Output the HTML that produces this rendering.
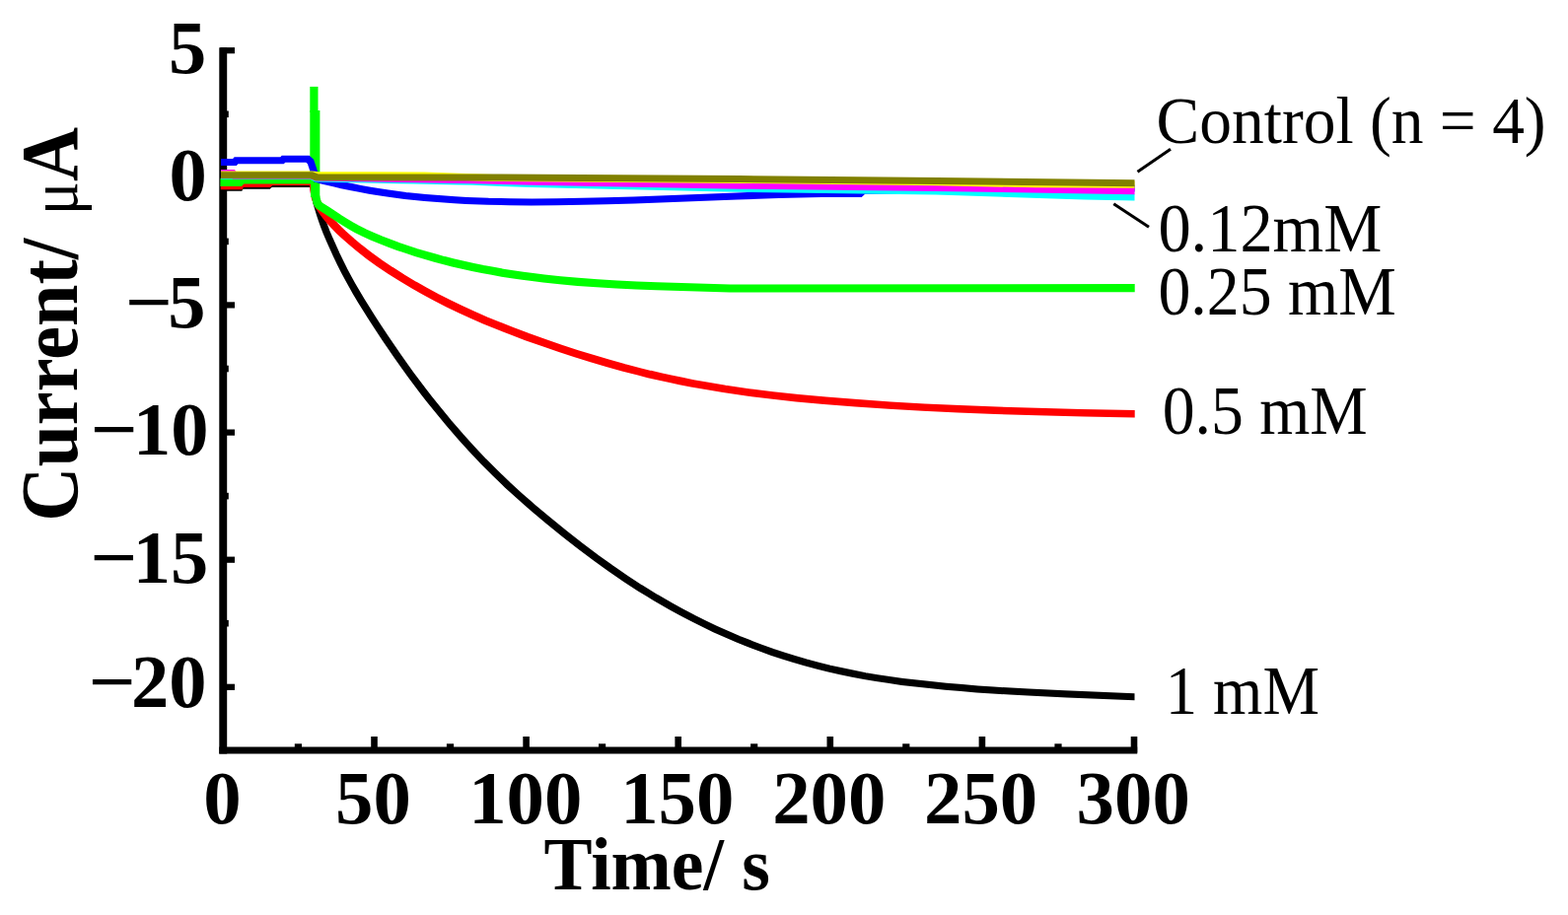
<!DOCTYPE html>
<html lang="en"><head><meta charset="utf-8"><title>Current vs Time</title>
<style>
html,body{margin:0;padding:0;background:#fff;overflow:hidden}
svg{display:block}
text{font-family:"Liberation Serif",serif;fill:#000;white-space:pre}
</style></head>
<body>
<svg width="1590" height="928" viewBox="0 0 1590 928">
<rect width="1590" height="928" fill="#fff"/>
<g fill="#000">
<rect x="222.3" y="48.3" width="7.9" height="716.2"/>
<rect x="222.3" y="757.5" width="930.9" height="7.0"/>
<rect x="223.3" y="48.1" width="14.7" height="6.2"/>
<rect x="223.3" y="177.2" width="14.7" height="6.2"/>
<rect x="223.3" y="306.3" width="14.7" height="6.2"/>
<rect x="223.3" y="435.5" width="14.7" height="6.2"/>
<rect x="223.3" y="564.6" width="14.7" height="6.2"/>
<rect x="223.3" y="693.7" width="14.7" height="6.2"/>
<rect x="223.3" y="112.5" width="8.5" height="6.6"/>
<rect x="223.3" y="241.6" width="8.5" height="6.6"/>
<rect x="223.3" y="370.7" width="8.5" height="6.6"/>
<rect x="223.3" y="499.8" width="8.5" height="6.6"/>
<rect x="223.3" y="628.9" width="8.5" height="6.6"/>
<rect x="376.2" y="747.0" width="6.6" height="16.5"/>
<rect x="530.3" y="747.0" width="6.6" height="16.5"/>
<rect x="684.4" y="747.0" width="6.6" height="16.5"/>
<rect x="838.5" y="747.0" width="6.6" height="16.5"/>
<rect x="992.6" y="747.0" width="6.6" height="16.5"/>
<rect x="1146.7" y="747.0" width="6.6" height="16.5"/>
<rect x="298.8" y="754.3" width="7.2" height="9.2"/>
<rect x="452.9" y="754.3" width="7.2" height="9.2"/>
<rect x="607.0" y="754.3" width="7.2" height="9.2"/>
<rect x="761.1" y="754.3" width="7.2" height="9.2"/>
<rect x="915.2" y="754.3" width="7.2" height="9.2"/>
<rect x="1069.4" y="754.3" width="7.2" height="9.2"/>
</g>
<g stroke-linejoin="miter" stroke-miterlimit="3">
<path d="M227.0 189.7 L242.5 189.7 L243.5 187.7 L271.5 187.7 L273.5 185.9 L319.5 185.9 L320.0 194.4 L320.5 200.5 L321.0 203.0 L321.5 205.2 L325.0 216.8 L327.0 222.8 L329.0 228.3 L331.5 234.8 L335.0 243.1 L341.5 257.5 L345.5 265.8 L349.5 273.8 L353.5 281.3 L357.5 288.6 L361.5 295.6 L367.0 304.8 L377.5 321.6 L383.5 330.9 L391.0 342.2 L403.5 360.5 L409.5 369.0 L417.0 379.4 L429.5 396.1 L435.5 403.8 L443.0 413.2 L455.5 428.4 L467.5 442.3 L479.0 455.0 L491.0 467.7 L503.0 479.7 L515.0 491.2 L527.5 502.6 L541.0 514.4 L555.5 526.6 L573.0 540.8 L589.0 553.3 L605.0 565.4 L619.5 575.8 L635.0 586.4 L649.5 595.9 L657.5 600.8 L665.5 605.7 L681.0 614.6 L691.5 620.4 L703.5 626.7 L715.0 632.4 L725.5 637.4 L737.5 642.8 L749.0 647.7 L759.5 651.9 L771.5 656.5 L783.5 660.8 L795.0 664.6 L805.5 667.9 L817.5 671.4 L829.5 674.6 L841.5 677.6 L853.5 680.3 L865.5 682.8 L877.5 685.1 L889.5 687.1 L901.5 688.9 L915.5 690.9 L929.5 692.6 L943.5 694.1 L959.5 695.7 L975.5 697.1 L991.5 698.4 L1007.5 699.5 L1025.0 700.6 L1043.0 701.6 L1079.5 703.3 L1147.5 706.2 L1147.5 707.2 L1082.0 704.5 L1042.5 702.6 L1024.0 701.6 L1006.5 700.5 L990.5 699.4 L974.5 698.1 L958.5 696.7 L942.5 695.1 L928.5 693.6 L914.5 691.9 L900.5 689.9 L888.5 688.1 L876.5 686.1 L864.5 683.8 L852.5 681.3 L840.5 678.6 L828.5 675.6 L816.5 672.4 L804.5 668.9 L794.0 665.6 L782.5 661.8 L770.5 657.5 L758.5 652.9 L748.0 648.7 L736.5 643.8 L724.5 638.4 L714.0 633.4 L702.5 627.7 L690.5 621.4 L680.0 615.6 L664.5 606.7 L656.5 601.8 L648.5 596.9 L634.0 587.4 L618.5 576.8 L604.0 566.4 L588.0 554.3 L572.0 541.8 L554.5 527.6 L540.0 515.4 L526.5 503.6 L514.0 492.2 L502.0 480.7 L490.0 468.7 L478.0 456.0 L466.5 443.3 L454.5 429.4 L442.0 414.2 L434.5 404.8 L428.5 397.1 L416.0 380.4 L408.5 370.0 L402.5 361.5 L390.0 343.2 L382.5 331.9 L376.5 322.6 L366.0 305.8 L360.5 296.6 L356.5 289.6 L352.5 282.3 L348.5 274.8 L344.5 266.8 L340.5 258.5 L334.0 244.1 L330.5 235.8 L328.0 229.3 L326.0 223.8 L324.0 217.8 L320.5 206.2 L320.0 204.0 L319.5 201.5 L319.0 195.4 L318.5 186.9 L274.5 186.9 L272.5 188.7 L244.5 188.7 L243.5 190.7 L227.0 190.7Z" fill="#000000" stroke="#000000" stroke-width="6.0"/>
<path d="M226.5 187.6 L242.0 187.6 L243.0 185.3 L271.0 185.3 L273.0 183.4 L318.5 183.4 L319.0 191.0 L320.5 199.0 L323.5 206.2 L327.5 212.4 L331.5 217.9 L335.5 222.8 L341.0 228.7 L345.0 232.7 L349.0 236.5 L357.5 244.0 L365.5 250.7 L375.5 258.5 L385.5 265.7 L397.0 273.4 L409.0 281.0 L421.0 288.2 L431.5 294.1 L443.5 300.6 L455.5 306.7 L467.5 312.5 L479.5 318.0 L493.0 323.9 L505.5 329.0 L519.5 334.5 L535.5 340.6 L553.0 346.8 L569.5 352.5 L585.5 357.7 L601.5 362.7 L617.5 367.4 L633.5 371.9 L649.5 376.0 L659.5 378.5 L671.0 381.1 L681.5 383.4 L691.5 385.5 L703.0 387.8 L713.5 389.7 L735.5 393.4 L759.0 396.8 L783.5 399.9 L809.5 402.7 L837.5 405.3 L869.5 407.8 L903.0 410.1 L937.5 412.1 L973.0 413.8 L1011.0 415.2 L1051.0 416.5 L1095.5 417.6 L1148.0 418.7 L1148.0 420.7 L1099.5 419.8 L1051.5 418.6 L1009.5 417.3 L971.5 415.8 L935.5 414.1 L901.0 412.1 L867.5 409.8 L835.5 407.3 L807.5 404.7 L781.5 401.9 L757.0 398.8 L733.5 395.4 L711.5 391.7 L701.0 389.8 L689.5 387.5 L679.5 385.4 L669.0 383.1 L657.5 380.5 L647.5 378.0 L631.5 373.9 L615.5 369.4 L599.5 364.7 L583.5 359.7 L567.5 354.5 L551.0 348.8 L533.5 342.6 L517.5 336.5 L503.5 331.0 L491.0 325.9 L477.5 320.0 L465.5 314.5 L453.5 308.7 L441.5 302.6 L429.5 296.1 L419.0 290.2 L407.0 283.0 L395.0 275.4 L383.5 267.7 L373.5 260.5 L363.5 252.7 L355.5 246.0 L347.0 238.5 L343.0 234.7 L339.0 230.7 L333.5 224.8 L329.5 219.9 L325.5 214.4 L321.5 208.2 L318.5 201.0 L317.0 193.0 L316.5 185.4 L275.0 185.4 L273.0 187.3 L245.0 187.3 L244.0 189.6 L226.5 189.6Z" fill="#ff0000" stroke="#ff0000" stroke-width="5.4"/>
<path d="M227.3 184.7 L242.8 184.7 L243.3 184.2 L244.8 182.5 L245.3 182.3 L316.4 182.3 L316.4 182.7 L245.8 182.7 L245.3 182.8 L243.8 184.5 L243.3 185.0 L227.3 185.0Z M319.2 197.0 L319.8 197.0 L320.2 198.5 L321.8 204.9 L322.2 206.1 L323.8 208.1 L324.2 208.5 L325.8 209.6 L332.2 213.6 L344.2 221.5 L349.8 225.0 L355.8 228.6 L361.8 231.9 L369.8 236.0 L377.8 239.6 L386.2 243.2 L396.2 247.0 L404.2 249.9 L413.8 253.1 L422.2 255.9 L431.8 258.8 L441.8 261.6 L450.2 263.9 L459.8 266.3 L469.8 268.6 L479.8 270.8 L489.8 272.9 L499.8 274.7 L509.8 276.5 L519.8 278.1 L530.2 279.6 L540.2 280.9 L551.8 282.3 L568.2 284.1 L586.2 285.7 L605.8 287.1 L625.8 288.3 L645.8 289.3 L666.2 290.1 L740.2 292.4 L1146.8 292.0 L1146.8 292.3 L740.2 292.7 L665.8 290.4 L645.2 289.6 L625.2 288.6 L605.2 287.4 L585.8 286.0 L567.8 284.4 L551.2 282.6 L539.8 281.2 L529.8 279.9 L519.2 278.4 L509.2 276.8 L499.2 275.0 L489.2 273.2 L479.2 271.1 L469.2 268.9 L459.2 266.6 L449.8 264.2 L441.2 261.9 L431.2 259.1 L421.8 256.2 L413.2 253.4 L403.8 250.2 L395.8 247.3 L385.8 243.5 L377.2 239.9 L369.2 236.3 L361.2 232.2 L355.2 228.9 L349.2 225.3 L343.8 221.8 L331.8 213.9 L325.2 209.9 L323.8 208.8 L323.2 208.4 L321.8 206.4 L321.2 205.2 L319.8 198.8 L319.2 197.3Z" fill="#00ff00" stroke="#00ff00" stroke-width="7.8"/>
<rect x="314.3" y="87.9" width="8.2" height="26.1" fill="#00ff00" stroke="none"/>
<rect x="314.3" y="112.0" width="10.1" height="63.0" fill="#00ff00" stroke="none"/>
<rect x="315.0" y="174.0" width="9.3" height="26.0" fill="#00ff00" stroke="none"/>
<path d="M227.0 164.0 L237.5 164.0 L239.0 162.3 L285.5 162.3 L287.0 160.8 L312.5 160.8 L315.5 163.5 L319.5 175.5 L321.5 180.9 L329.5 183.0 L339.5 185.4 L347.5 187.2 L357.5 189.3 L365.5 190.9 L375.5 192.7 L383.5 194.0 L393.5 195.5 L411.5 197.9 L421.5 199.0 L431.5 200.0 L451.5 201.6 L461.5 202.3 L473.5 202.9 L495.5 203.8 L517.5 204.2 L539.5 204.4 L564.5 204.2 L590.5 203.8 L614.5 203.2 L642.5 202.4 L746.5 198.4 L788.5 197.1 L810.5 196.5 L832.5 196.1 L852.5 195.9 L871.5 195.9 L875.0 192.7 L999.5 191.8 L1147.5 190.5 L1147.5 191.5 L1000.5 192.8 L876.0 193.7 L872.5 196.9 L853.5 196.9 L833.5 197.1 L811.5 197.5 L789.5 198.1 L747.5 199.4 L643.5 203.4 L615.5 204.2 L591.5 204.8 L563.5 205.3 L538.5 205.4 L516.5 205.2 L494.5 204.8 L472.5 203.9 L460.5 203.3 L450.5 202.6 L430.5 201.0 L420.5 200.0 L410.5 198.9 L392.5 196.5 L382.5 195.0 L374.5 193.7 L364.5 191.9 L356.5 190.3 L346.5 188.2 L338.5 186.4 L328.5 184.0 L320.5 181.9 L318.5 176.5 L314.5 164.5 L311.5 161.8 L288.0 161.8 L286.5 163.3 L240.0 163.3 L238.5 165.0 L227.0 165.0Z" fill="#0000ff" stroke="#0000ff" stroke-width="6.0"/>
<path d="M227.0 178.0 L316.5 178.0 L321.5 180.5 L480.5 183.8 L540.5 186.1 L750.5 190.7 L950.5 193.5 L1100.5 198.5 L1147.5 199.5 L1147.5 200.5 L1099.5 199.5 L949.5 194.5 L749.5 191.7 L539.5 187.1 L479.5 184.8 L320.5 181.5 L315.5 179.0 L227.0 179.0Z" fill="#00ffff" stroke="#00ffff" stroke-width="6.0"/>
<path d="M227.0 175.1 L236.5 175.1 L238.5 177.5 L316.5 177.5 L321.5 179.5 L480.5 182.2 L540.5 183.8 L750.5 187.7 L950.5 190.0 L1147.5 193.2 L1147.5 194.2 L949.5 191.0 L749.5 188.7 L539.5 184.8 L479.5 183.2 L320.5 180.5 L315.5 178.5 L237.5 178.5 L235.5 176.1 L227.0 176.1Z" fill="#ff00ff" stroke="#ff00ff" stroke-width="6.0"/>
<path d="M227.0 176.5 L316.5 176.5 L321.5 177.1 L430.5 177.5 L500.5 179.9 L750.5 181.9 L950.5 184.2 L1050.5 186.3 L1147.5 186.7 L1147.5 187.7 L1049.5 187.3 L949.5 185.2 L749.5 182.9 L499.5 180.9 L429.5 178.5 L320.5 178.1 L315.5 177.5 L227.0 177.5Z" fill="#ffff00" stroke="#ffff00" stroke-width="6.0"/>
<path d="M227.0 177.2 L316.5 177.2 L321.5 179.3 L500.5 179.5 L750.5 181.1 L950.5 183.0 L1147.5 185.1 L1147.5 186.1 L949.5 184.0 L749.5 182.1 L499.5 180.5 L320.5 180.3 L315.5 178.2 L227.0 178.2Z" fill="#808000" stroke="#808000" stroke-width="6.0"/>
</g>
<g stroke="#000" stroke-width="3">
<line x1="1153.5" y1="174.2" x2="1187" y2="151.3"/>
<line x1="1129.3" y1="206.8" x2="1165" y2="230.2"/>
</g>
<text transform="translate(171.04 73.53)" font-size="76.50" font-weight="bold">5</text>
<text transform="translate(171.57 202.53)" font-size="76.50" font-weight="bold">0</text>
<text transform="translate(126.73 332.28)" font-size="76.50" font-weight="bold"><tspan textLength="48.18" lengthAdjust="spacingAndGlyphs">−</tspan><tspan dx="-4.58">5</tspan></text>
<text transform="translate(91.50 460.78)" font-size="76.50" font-weight="bold"><tspan textLength="48.18" lengthAdjust="spacingAndGlyphs">−</tspan><tspan dx="-4.58">10</tspan></text>
<text transform="translate(91.25 590.86)" font-size="76.50" font-weight="bold"><tspan textLength="48.18" lengthAdjust="spacingAndGlyphs">−</tspan><tspan dx="-4.58">15</tspan></text>
<text transform="translate(89.50 717.23)" font-size="76.50" font-weight="bold"><tspan textLength="48.18" lengthAdjust="spacingAndGlyphs">−</tspan><tspan dx="-4.58">20</tspan></text>
<text transform="translate(206.35 835.38)" font-size="76.80" font-weight="bold">0</text>
<text transform="translate(340.12 835.38)" font-size="76.80" font-weight="bold">50</text>
<text transform="translate(475.13 835.38)" font-size="76.80" font-weight="bold">100</text>
<text transform="translate(629.18 835.38)" font-size="76.80" font-weight="bold">150</text>
<text transform="translate(783.17 835.38)" font-size="76.80" font-weight="bold">200</text>
<text transform="translate(937.02 835.38)" font-size="76.80" font-weight="bold">250</text>
<text transform="translate(1091.60 835.38)" font-size="76.80" font-weight="bold">300</text>
<text transform="translate(551.46 902.48) scale(0.9668 1)" font-size="76.06" font-weight="bold">Time/ s</text>
<text transform="translate(77.9 528.7) rotate(-90) scale(0.925 1)" font-size="82.5" font-weight="bold">Current/ <tspan font-weight="normal" font-size="69" dx="5">μ</tspan>A</text>
<text transform="translate(1172.58 145.35) scale(0.9581 1)" font-size="68.33" font-weight="normal">Control (n = 4)</text>
<text transform="translate(1174.41 255.00) scale(0.9466 1)" font-size="70.15" font-weight="normal">0.12mM</text>
<text transform="translate(1174.43 319.39) scale(0.9363 1)" font-size="70.29" font-weight="normal">0.25 mM</text>
<text transform="translate(1178.63 439.90) scale(0.9369 1)" font-size="70.15" font-weight="normal">0.5 mM</text>
<text transform="translate(1181.63 723.50) scale(0.9279 1)" font-size="69.70" font-weight="normal">1 mM</text>
</svg>
</body></html>
